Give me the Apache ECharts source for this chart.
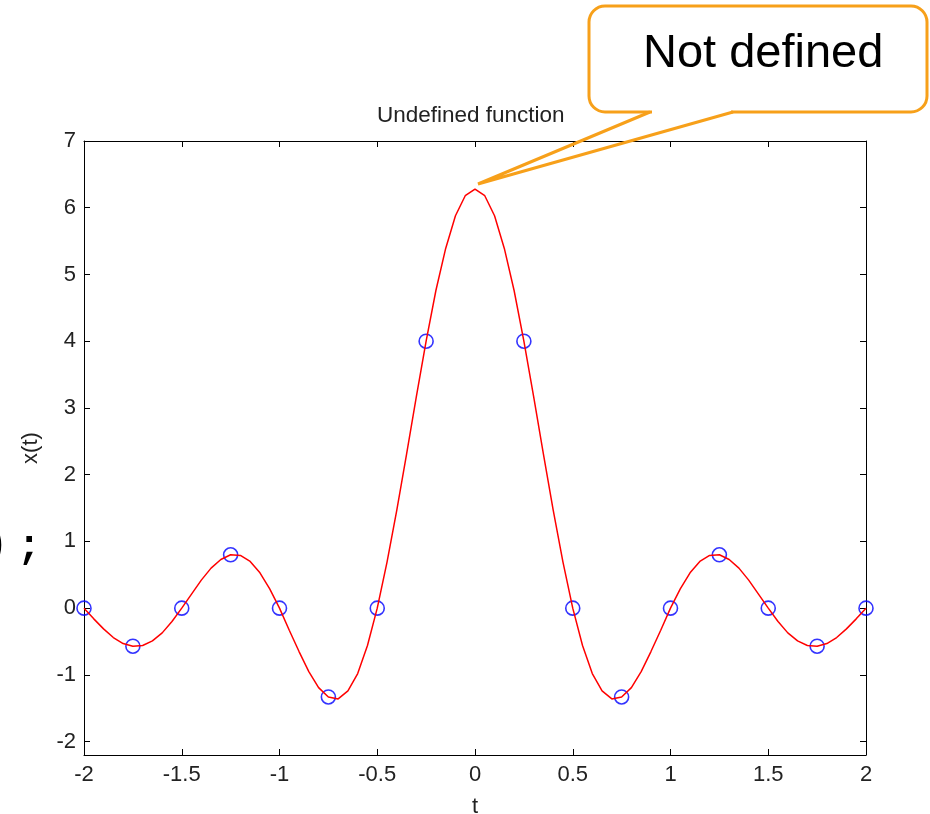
<!DOCTYPE html>
<html>
<head>
<meta charset="utf-8">
<script src="https://cdn.jsdelivr.net/npm/echarts@6/dist/echarts.min.js"></script>
<style>
html,body{margin:0;padding:0;background:#fff;}
#main{width:930px;height:814px;}
</style>
</head>
<body>
<div id="main"></div>
<script>
// Fine curve (red), t from -2 to 2 step 0.05
const curveT = [];
for (let i = 0; i <= 80; i++) curveT.push(+(-2 + i * 0.05).toFixed(2));
const curveX = [
  0.00, -0.16, -0.31, -0.44, -0.53, -0.57, -0.56, -0.49, -0.37, -0.20,
  0.00, 0.21, 0.42, 0.60, 0.73, 0.80, 0.79, 0.70, 0.53, 0.29,
  0.00, -0.33, -0.65, -0.95, -1.19, -1.33, -1.36, -1.24, -0.98, -0.56,
  0.00, 0.69, 1.47, 2.31, 3.17, 4.00, 4.76, 5.39, 5.88, 6.18,
  6.28,
  6.18, 5.88, 5.39, 4.76, 4.00, 3.17, 2.31, 1.47, 0.69, 0.00,
  -0.56, -0.98, -1.24, -1.36, -1.33, -1.19, -0.95, -0.65, -0.33, 0.00,
  0.29, 0.53, 0.70, 0.79, 0.80, 0.73, 0.60, 0.42, 0.21, 0.00,
  -0.20, -0.37, -0.49, -0.56, -0.57, -0.53, -0.44, -0.31, -0.16, 0.00
];
// Sample points (blue circles)
const sampleT = [-2, -1.75, -1.5, -1.25, -1, -0.75, -0.5, -0.25, 0.25, 0.5, 0.75, 1, 1.25, 1.5, 1.75, 2];
const sampleX = [0, -0.57, 0, 0.8, 0, -1.33, 0, 4, 4, 0, -1.33, 0, 0.8, 0, -0.57, 0];
const yTicks = [-2, -1, 0, 1, 2, 3, 4, 5, 6, 7];

const FONT = 'Liberation Sans';
const axisLineStyle = { color: '#000', width: 1 };
const ORANGE = '#f7a01a';

const chart = echarts.init(document.getElementById('main'));
chart.setOption({
  animation: false,
  backgroundColor: '#fff',
  title: {
    text: 'Undefined function',
    left: 372, top: 99,
    textStyle: { fontFamily: FONT, fontSize: 22.5, fontWeight: 'normal', color: '#222' }
  },
  grid: { left: 84, right: 64, top: 141, bottom: 59, outerBoundsMode: 'none', containLabel: false },
  xAxis: [{
    type: 'value', min: -2, max: 2, interval: 0.5, position: 'bottom',
    name: 't', nameLocation: 'middle', nameGap: 41,
    nameTextStyle: { fontFamily: FONT, fontSize: 22, color: '#222' },
    axisLine: { show: true, onZero: false, lineStyle: axisLineStyle },
    axisTick: { show: true, inside: true, length: 6, lineStyle: axisLineStyle },
    axisLabel: { fontFamily: FONT, fontSize: 22, color: '#222', margin: 9 },
    splitLine: { show: false }
  }, {
    type: 'value', min: -2, max: 2, interval: 0.5, position: 'top',
    axisLine: { show: true, onZero: false, lineStyle: axisLineStyle },
    axisTick: { show: true, inside: true, length: 6, lineStyle: axisLineStyle },
    axisLabel: { show: false },
    splitLine: { show: false }
  }],
  yAxis: [{
    type: 'value', min: -2.2, max: 7, position: 'left',
    name: 'x(t)', nameLocation: 'middle', nameGap: 42,
    nameTextStyle: { fontFamily: FONT, fontSize: 22, color: '#222' },
    axisLine: { show: true, onZero: false, lineStyle: axisLineStyle },
    axisTick: { show: true, inside: true, length: 6, customValues: yTicks, lineStyle: axisLineStyle },
    axisLabel: { fontFamily: FONT, fontSize: 22, color: '#222', margin: 8, customValues: yTicks },
    splitLine: { show: false }
  }, {
    type: 'value', min: -2.2, max: 7, position: 'right',
    axisLine: { show: true, onZero: false, lineStyle: axisLineStyle },
    axisTick: { show: true, inside: true, length: 6, customValues: yTicks, lineStyle: axisLineStyle },
    axisLabel: { show: false, customValues: yTicks },
    splitLine: { show: false }
  }],
  series: [{
    type: 'scatter',
    data: sampleT.map((t, i) => [t, sampleX[i]]),
    symbol: 'circle', symbolSize: 14,
    itemStyle: { color: 'rgba(0,0,0,0)', borderColor: '#0000ff', borderWidth: 1.6 },
    z: 2
  }, {
    type: 'line',
    data: curveT.map((t, i) => [t, curveX[i]]),
    showSymbol: false, symbol: 'none', smooth: false,
    lineStyle: { color: '#ff0000', width: 1.5 },
    z: 3
  }],
  graphic: [{
    type: 'rect',
    shape: { x: 589, y: 6, width: 338, height: 106, r: 16 },
    style: { fill: '#fff', stroke: ORANGE, lineWidth: 3 },
    z: 100
  }, {
    type: 'rect',
    shape: { x: 652, y: 109, width: 79, height: 6 },
    style: { fill: '#fff', stroke: null },
    z: 101
  }, {
    type: 'polyline',
    shape: { points: [[650, 112], [478, 184], [733, 112]] },
    style: { fill: null, stroke: ORANGE, lineWidth: 3, lineJoin: 'miter' },
    z: 102
  }, {
    type: 'text',
    x: 643, y: 31,
    style: { text: 'Not defined', font: '47px "Liberation Sans"', fill: '#000' },
    z: 103
  }, {
    type: 'text',
    x: -4, y: 546,
    style: { text: ')', font: 'bold 40px "Liberation Mono"', fill: '#000', align: 'center', verticalAlign: 'middle' },
    z: 103
  }, {
    type: 'text',
    x: 29, y: 548,
    style: { text: ';', font: 'bold 40px "Liberation Mono"', fill: '#000', align: 'center', verticalAlign: 'middle' },
    z: 103
  }]
});
</script>
</body>
</html>
